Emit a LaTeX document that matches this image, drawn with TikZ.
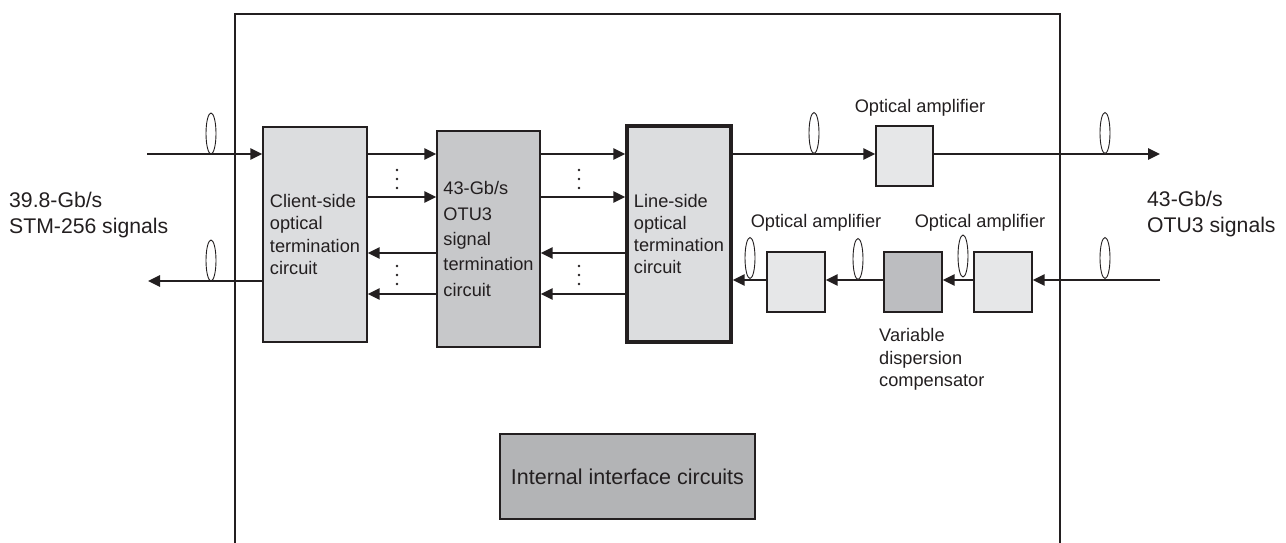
\documentclass[tikz,border=0pt]{standalone}
\usepackage{fontspec}
\setmainfont{Liberation Sans}
\usetikzlibrary{arrows.meta}
\definecolor{ink}{HTML}{231F20}
\definecolor{fillA}{HTML}{DCDDDF}
\definecolor{fillB}{HTML}{C7C8CA}
\definecolor{fillAmp}{HTML}{E6E7E8}
\definecolor{fillVdc}{HTML}{BCBDC0}
\definecolor{fillInt}{HTML}{B3B4B6}
\begin{document}
\begin{tikzpicture}[x=1pt,y=-1pt,
  box/.style={draw=ink, line width=1.4pt, inner sep=0pt, align=left, text=ink,
    font=\fontsize{18.2}{22.3}\selectfont},
  sig/.style={draw=ink, line width=2.6pt, -{Triangle[length=12pt,width=11pt]}},
  plain/.style={draw=ink, line width=2.6pt},
  frame/.style={draw=ink, line width=2.6pt},
  lens/.style={draw=ink, line width=0.9pt, fill=white},
  lbl/.style={text=ink, inner sep=0pt, align=left, font=\fontsize{18.2}{22.5}\selectfont},
  biglbl/.style={text=ink, inner sep=0pt, align=left, font=\fontsize{21.2}{26}\selectfont},
  dotm/.style={fill=ink}
]
\useasboundingbox (0,0) rectangle (1286,543);

% frame (open at the bottom)
\draw[frame] (235,543) -- (235,14) -- (1060,14) -- (1060,543);

% boxes
\node[box, fill=fillA, minimum width=104pt, minimum height=215pt] (client) at (315,234.5)
  {Client-side\\optical\\termination\\circuit};
\node[box, fill=fillB, minimum width=103pt, minimum height=216pt,
  font=\fontsize{18.2}{25.3}\selectfont] (otu) at (488.5,239)
  {43-Gb/s\\OTU3\\signal\\termination\\circuit};
\node[box, fill=fillA, line width=3.3pt, minimum width=104pt, minimum height=216pt] (line) at (679,234)
  {Line-side\\optical\\termination\\circuit};
\node[box, fill=fillAmp, minimum width=57pt, minimum height=60pt] (amp1) at (904.5,156) {};
\node[box, fill=fillAmp, minimum width=58pt, minimum height=60pt] (amp2) at (796,282) {};
\node[box, fill=fillVdc, minimum width=58pt, minimum height=60pt] (vdc) at (913,282) {};
\node[box, fill=fillAmp, minimum width=58pt, minimum height=60pt] (amp3) at (1003,282) {};
\node[box, fill=fillInt, minimum width=255pt, minimum height=85pt,
  font=\fontsize{21.5}{26}\selectfont] (int) at (627.5,476.5) {Internal interface circuits};

% labels
\node[lbl] (lampA) at (920,108) {Optical amplifier};
\node[lbl] (lampB) at (816,223) {Optical amplifier};
\node[lbl] (lampC) at (980,223) {Optical amplifier};
\node[lbl, anchor=west] (lvdc) at (879,359.5) {Variable\\dispersion\\compensator};
\node[biglbl, anchor=west] (lleft) at (9,215) {39.8-Gb/s\\STM-256 signals};
\node[biglbl, anchor=west] (lright) at (1147,214.5) {43-Gb/s\\OTU3 signals};

% rows
\coordinate (r1) at (0,154);
\coordinate (r2) at (0,197);
\coordinate (r3) at (0,253);
\coordinate (r4) at (0,294);
\coordinate (r5) at (0,280);
\coordinate (inL) at (147,154);
\coordinate (outL) at (148,281);
\coordinate (outR) at (1160,154);
\coordinate (inR) at (1160,280);

% left outer signals
\draw[sig] (inL) -- (client.west |- inL);
\draw[sig] (client.west |- outL) -- (outL);

% client <-> otu
\draw[sig] (client.east |- r1) -- (otu.west |- r1);
\draw[sig] (client.east |- r2) -- (otu.west |- r2);
\draw[sig] (otu.west |- r3) -- (client.east |- r3);
\draw[sig] (otu.west |- r4) -- (client.east |- r4);

% otu <-> line
\draw[sig] (otu.east |- r1) -- (line.west |- r1);
\draw[sig] (otu.east |- r2) -- (line.west |- r2);
\draw[sig] (line.west |- r3) -- (otu.east |- r3);
\draw[sig] (line.west |- r4) -- (otu.east |- r4);

% line side out
\draw[sig] (line.east |- r1) -- (amp1.west |- r1);
\draw[sig] (amp1.east |- r1) -- (outR);

% line side in
\draw[sig] (inR) -- (amp3.east |- inR);
\draw[sig] (amp3.west |- r5) -- (vdc.east |- r5);
\draw[sig] (vdc.west |- r5) -- (amp2.east |- r5);
\draw[sig] (amp2.west |- r5) -- (line.east |- r5);

% lenses (fibre symbols)
\draw[lens] (211,133.5) ellipse [x radius=5, y radius=20.5];
\draw[lens] (211,260.5) ellipse [x radius=5, y radius=20.5];
\draw[lens] (814,133) ellipse [x radius=5, y radius=20.5];
\draw[lens] (1105,133) ellipse [x radius=5, y radius=20.5];
\draw[lens] (750,258) ellipse [x radius=5, y radius=20.5];
\draw[lens] (858,259) ellipse [x radius=5, y radius=20.5];
\draw[lens] (963,256) ellipse [x radius=5, y radius=21];
\draw[lens] (1105,258) ellipse [x radius=5, y radius=20.5];

% continuation dots
\foreach \dx in {397,579} {
  \foreach \dy in {170,179,188,266,275,284} {
    \fill[dotm] (\dx,\dy) circle [radius=1.3];
  }
}
\end{tikzpicture}
\end{document}
